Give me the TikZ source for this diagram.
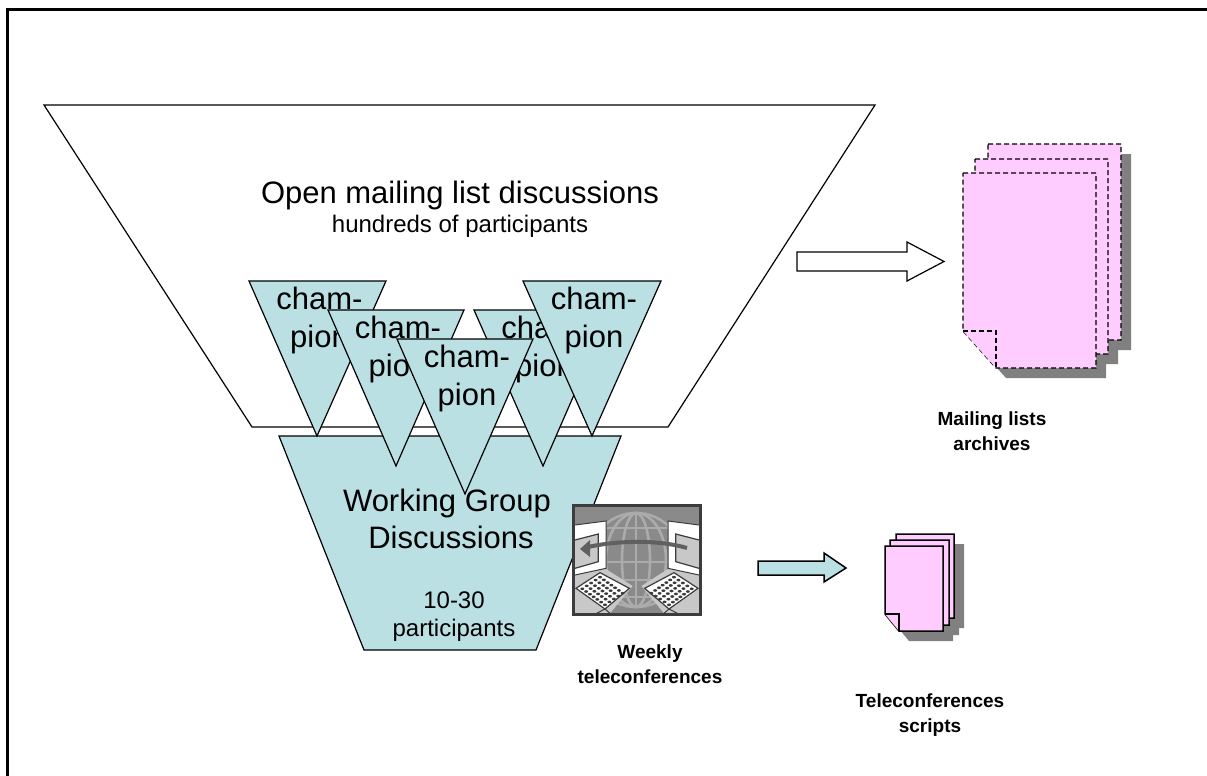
\documentclass[tikz,border=0pt]{standalone}
\usepackage{fontspec}
\setmainfont{Liberation Sans}
\definecolor{teal1}{HTML}{BBE0E3}
\definecolor{pink1}{HTML}{FFCCFF}
\definecolor{shadow1}{HTML}{808080}
\definecolor{iconbg}{HTML}{8A8A8A}
\definecolor{iconln}{HTML}{ABABAB}
\definecolor{iconlt}{HTML}{C8C8C8}
\definecolor{icondk}{HTML}{3C3C3C}
\definecolor{iconar}{HTML}{606060}
\tikzset{
  outline/.style={draw=black,line width=1.2pt,line join=miter},
  funnel/.style={outline,fill=white},
  tealshape/.style={outline,fill=teal1},
  champtext/.style={font=\fontsize{31}{38}\selectfont,align=center,anchor=base,inner sep=0pt},
  bigtext/.style={font=\fontsize{31}{36}\selectfont,align=center,inner sep=0pt},
  wgtext/.style={font=\fontsize{31}{38}\selectfont,align=center,inner sep=0pt},
  subtext/.style={font=\fontsize{24}{28}\selectfont,align=center,inner sep=0pt},
  caption/.style={font=\fontsize{19}{25}\selectfont\bfseries,align=center,inner sep=0pt},
  pagedash/.style={draw=black,line width=1.3pt,dash pattern=on 5pt off 3pt,fill=pink1},
  pagesolid/.style={draw=black,line width=1.5pt,fill=pink1},
  pageshadow/.style={fill=shadow1,draw=none},
}
% champion triangle: left x, right x, top y, apex x, apex y, name
\newcommand{\champtri}[6]{%
  \draw[tealshape] (#1,#3) -- (#2,#3) -- (#4,#5) -- cycle;
  \node[champtext] (#6a) at ({(#1+#2)/2+2},#3+28) {cham-};
  \node[champtext] (#6b) at ({(#1+#2)/2+2},#3+66) {pion};
}
% page polygon: left,right,top,bottom,foldx,foldy
\newcommand{\pagepath}[6]{(#1,#3) -- (#2,#3) -- (#2,#4) -- (#5,#4) -- (#1,#6) -- cycle}
% one half of the icon, in the coordinates of a 3x crop
\newcommand{\iconhalf}{%
  \fill[iconlt] (45,345) -- (130,322) -- (218,378) -- (150,460) -- (45,460) -- cycle;
  \draw[draw=icondk,line width=1pt,fill=white] (45,195) -- (138,183) -- (138,325) -- (45,345);
  \draw[draw=icondk,line width=1.2pt,fill=iconlt] (45,240) -- (115,222) -- (115,305) -- (45,325);
  \draw[draw=icondk,line width=1.2pt,fill=white] (48,385) -- (120,338) -- (208,385) -- (135,447) -- cycle;
  \draw[icondk,line width=1pt] (135,447) -- (110,460);
  \draw[icondk,line width=1pt] (135,447) -- (150,460);
  \foreach \u in {0.12,0.31,0.5,0.69,0.88}{
    \foreach \v in {0.1,0.235,0.37,0.5,0.63,0.765,0.9}{
      \fill[icondk] ({50+\u*70+\v*85},{386-\u*46+\v*60}) ellipse (6 and 4);
    }}
}
\begin{document}
\begin{tikzpicture}[x=1pt,y=-1pt]
\useasboundingbox (0,0) rectangle (1207,776);
\fill[white] (0,0) rectangle (1207,776);
% frame
\draw[black,line width=3pt] (7.5,776) -- (7.5,9.5) -- (1207,9.5);
% funnels
\draw[funnel] (44,105) -- (875,105) -- (668,427) -- (252,427) -- cycle;
\node[bigtext] (open) at (460,195) {Open mailing list discussions};
\node[subtext] (hundreds) at (460,226) {hundreds of participants};
\draw[tealshape] (279,436) -- (621,436) -- (536,650) -- (364,650) -- cycle;
% champions
\champtri{249}{386}{281}{317}{436}{c1}
\champtri{328}{464}{310}{396}{466}{c2}
\champtri{474}{611}{310}{543}{466}{c4}
\champtri{523}{661}{281}{592}{436}{c5}
\champtri{397}{533}{339}{465}{494}{c3}
% WG text
\node[wgtext] (wg) at (447,511) [anchor=base] {Working Group};
\node[wgtext] (disc) at (451,548) [anchor=base] {Discussions};
\node[subtext,anchor=base] (range) at (454,608) {10-30};
\node[subtext,anchor=base] (part) at (454,636) {participants};
% icon
\begin{scope}
  \clip (572,504) rectangle (702,616);
  \fill[iconbg] (572,504) rectangle (702,616);
  \begin{scope}[iconln,line width=2.6pt]
    \draw (636,560) circle (47);
    \draw (636,513) -- (636,607);
    \draw (636,560) ellipse (14 and 47);
    \draw (636,560) ellipse (30 and 47);
    \draw (592,528) -- (680,528);
    \draw (589,543) -- (683,543);
    \draw (589,562) -- (683,562);
    \draw (589,580) -- (683,580);
    \draw (595,597) -- (677,597);
  \end{scope}
  \begin{scope}[shift={(560,460)},x=0.3333pt,y=-0.3333pt]
    \iconhalf
  \end{scope}
  \begin{scope}[shift={(714,460)},x=-0.3333pt,y=-0.3333pt]
    \iconhalf
  \end{scope}
  \draw[iconar,line width=4pt] (687,548) .. controls (660,540) and (620,540) .. (588,547);
  \fill[iconar] (580,549) -- (590,540) -- (590,557) -- cycle;
\end{scope}
\draw[icondk,line width=3pt] (573.5,505.5) rectangle (700.5,614.5);
% arrows
\draw[outline,fill=white] (797,252) -- (907,252) -- (907,242) -- (944,261.5) -- (907,281) -- (907,271) -- (797,271) -- cycle;
\draw[outline,line width=1.5pt,fill=teal1] (758,561) -- (824,561) -- (824,553) -- (846,568) -- (824,582) -- (824,575) -- (758,575) -- cycle;
% big document stack
\fill[pageshadow] \pagepath{998}{1131}{154}{350}{1031}{313};
\fill[pageshadow] \pagepath{985}{1118}{169}{364}{1018}{327};
\fill[pageshadow] \pagepath{973}{1106}{183}{378}{1006}{341};
\draw[pagedash] \pagepath{988}{1121}{144}{340}{1021}{303};
\draw[pagedash] \pagepath{975}{1108}{159}{354}{1008}{317};
\draw[pagedash] \pagepath{963}{1096}{173}{368}{996}{331};
\draw[pagedash] (963,331) -- (996,331) -- (996,368);
% small document stack
\fill[pageshadow] \pagepath{906}{964}{544}{628}{920}{611};
\fill[pageshadow] \pagepath{900}{959}{550}{635}{914}{618};
\fill[pageshadow] \pagepath{895}{953}{556}{641}{909}{624};
\draw[pagesolid] \pagepath{896}{954}{534}{618}{910}{601};
\draw[pagesolid] \pagepath{890}{949}{540}{625}{904}{608};
\draw[pagesolid] \pagepath{885}{943}{546}{631}{899}{614};
\draw[pagesolid] (885,614) -- (899,614) -- (899,631);
% captions
\node[caption] (mla) at (992,431) {Mailing lists\\archives};
\node[caption] (tele) at (650,664) {Weekly\\teleconferences};
\node[caption] (tcs) at (930,715) {Teleconferences\\scripts};
\end{tikzpicture}
\end{document}
